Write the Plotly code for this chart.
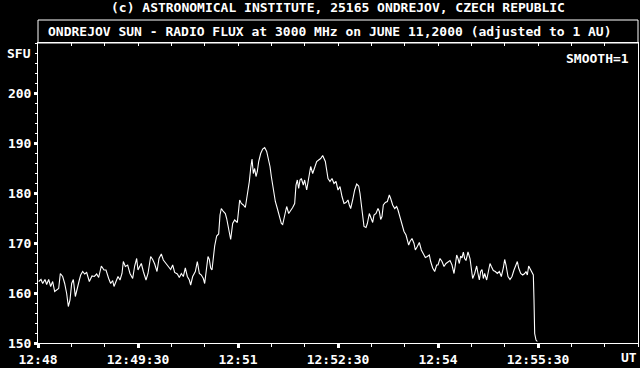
import plotly.graph_objects as go

# seconds after 12:48:00 UT
t_sec = [0.6, 2.7, 4.2, 6.3, 7.8, 9.6, 11.4, 13.2, 15.0, 16.8, 18.6, 20.1, 22.2, 24.0, 25.8,
         27.3, 28.8, 30.3, 31.8, 33.6, 35.4, 37.2, 38.4, 40.2, 42.0, 43.8, 46.2, 48.6, 50.7,
         52.8, 54.6, 57.0, 59.4, 61.2, 63.6, 65.4, 67.2, 68.4, 70.2, 72.0, 73.8, 75.6, 76.8,
         78.6, 80.7, 82.8, 85.2, 87.0, 88.8,
         90.0, 91.5, 93.0, 94.8, 97.2, 99.0, 101.4, 103.2, 105.0, 107.1, 108.9, 111.0, 112.8,
         115.2, 117.6, 119.4, 121.2, 123.0, 125.4, 127.2, 129.0, 130.8, 132.6, 134.4, 136.2,
         137.4, 139.2, 141.6, 143.4, 145.2, 147.0, 148.8, 150.0, 151.8, 153.0, 154.2, 155.4,
         156.6, 157.8, 159.0, 160.8, 162.6, 163.8, 165.0, 166.8, 168.6, 169.8, 171.6, 173.4,
         175.2, 177.0, 179.4,
         181.5, 183.0, 184.8, 186.6, 188.4, 190.2, 191.4, 192.6, 193.8, 195.0, 196.2, 197.4,
         198.6, 200.4, 202.2, 204.0, 205.8, 207.6, 208.8, 210.0, 211.8, 213.6, 215.4, 217.2,
         219.0, 220.2, 222.0, 223.8, 225.6, 227.4, 229.2, 231.0, 232.2, 233.4, 234.6, 235.8,
         237.0, 238.8, 240.0, 241.8, 243.6, 245.4, 247.2, 249.0, 250.8, 252.6, 254.4, 256.2,
         257.4, 258.6, 259.8, 261.0, 262.8, 264.6, 266.4, 268.2,
         270.0, 271.8, 273.6, 275.4, 277.2, 279.0, 280.2, 281.4, 283.2, 285.0, 286.8, 288.6,
         289.8, 291.0, 292.2, 293.4, 295.2, 296.4, 298.2, 300.0, 301.2, 302.4, 304.2, 306.0,
         307.2, 308.4, 309.6, 310.8, 312.6, 314.4, 316.2, 317.4, 319.2, 321.0, 322.8, 324.0,
         325.8, 327.6, 329.4, 331.2, 332.4, 333.6, 334.8, 336.6, 338.4, 339.6, 341.4, 343.2,
         345.0, 346.8, 348.6, 350.4, 352.2, 353.4, 355.2, 357.0, 358.8,
         360.0, 361.8, 363.6, 365.4, 367.2, 369.0, 370.8, 372.6, 374.4, 375.6, 376.8, 378.0,
         379.2, 380.4, 381.6, 382.8, 384.0, 385.2, 387.0, 388.8, 390.0, 391.2, 393.0, 394.8,
         396.0, 397.2, 398.4, 399.6, 400.8, 402.0, 403.8, 405.6, 406.8, 408.0, 409.8, 411.6,
         413.4, 415.2, 417.0, 418.8, 420.0, 421.2, 423.0, 424.8, 426.6, 428.4, 430.2, 431.4,
         432.6, 434.4, 436.2, 438.0, 439.2, 440.4, 441.6, 443.4, 444.6, 445.8, 446.4, 447.0,
         448.2, 449.4]

sfu = [162.3, 162.7, 161.9, 162.7, 161.7, 162.7, 161.3, 162.3, 160.3, 160.7, 160.9, 163.9, 163.3,
       161.9, 159.9, 157.3, 158.6, 161.9, 162.7, 159.3, 161.3, 162.6, 163.6, 164.3, 163.8, 164.1,
       162.3, 163.4, 163.3, 163.8, 163.1, 165.4, 164.6, 164.6, 162.9, 161.9, 162.5, 161.3, 162.3,
       163.3, 162.6, 163.9, 166.3, 165.3, 165.6, 163.9, 162.9, 165.4, 166.9,
       164.6, 165.3, 165.9, 164.3, 162.6, 163.9, 167.3, 166.7, 165.8, 164.3, 166.9, 167.8, 166.6,
       165.9, 165.3, 164.7, 165.6, 164.1, 163.8, 163.1, 163.9, 163.3, 165.0, 163.3, 162.6,
       161.6, 163.3, 164.3, 166.3, 163.9, 163.6, 162.9, 161.9, 165.3, 167.3, 166.7, 165.0,
       164.6, 167.3, 169.4, 171.4, 171.8, 175.6, 176.9, 176.3, 175.9, 174.9, 172.6, 170.7,
       173.9, 174.6, 174.1,
       178.6, 177.9, 177.6, 177.1, 179.6, 182.3, 184.9, 186.8, 183.9, 184.9, 183.3, 184.3,
       186.3, 187.9, 188.8, 189.1, 188.3, 186.6, 185.3, 183.3, 180.9, 178.3, 176.9, 175.6,
       173.9, 173.7, 175.6, 177.3, 175.9, 176.4, 177.1, 177.9, 181.6, 182.6, 180.9, 182.6,
       182.9, 181.6, 182.6, 180.6, 182.9, 185.3, 183.9, 184.9, 186.3, 186.6, 186.9, 187.5,
       186.9, 186.3, 184.6, 182.9, 182.3, 182.9, 181.9, 182.3,
       180.6, 181.3, 179.3, 177.9, 178.1, 178.6, 177.6, 176.9, 178.6, 180.6, 181.8, 181.4,
       179.9, 177.3, 174.6, 173.3, 173.1, 173.9, 175.9, 174.9, 174.1, 175.6, 175.9, 176.9,
       176.3, 174.7, 175.3, 177.6, 178.1, 178.3, 179.6, 178.9, 177.6, 176.9, 177.3, 176.6,
       175.3, 173.6, 172.3, 171.6, 170.6, 169.6, 170.3, 170.9, 169.9, 168.6, 169.3, 170.1,
       168.6, 167.9, 167.1, 167.3, 167.6, 166.3, 165.0, 164.3, 165.6,
       165.6, 166.9, 166.3, 165.3, 165.9, 166.3, 166.5, 165.6, 163.9, 165.6, 167.6, 166.9,
       165.9, 167.4, 167.0, 168.2, 166.9, 166.5, 168.2, 166.9, 165.0, 162.9, 163.9, 165.4,
       163.9, 162.6, 164.3, 164.7, 162.9, 163.9, 162.6, 164.6, 165.9, 165.3, 164.5, 164.3,
       163.9, 164.3, 163.3, 165.0, 166.7, 165.6, 163.3, 162.7, 163.3, 164.6, 165.9, 166.3,
       165.0, 163.9, 163.6, 163.9, 164.3, 163.6, 165.4, 164.6, 164.3, 163.6, 158.6, 151.9,
       150.6, 150.3]

x_tick_vals = [0, 90, 180, 270, 360, 450, 540]
x_tick_text = ["12:48", "12:49:30", "12:51", "12:52:30", "12:54", "12:55:30", ""]
x_minor_step = 30
y_tick_vals = [150, 160, 170, 180, 190, 200]
y_tick_text = ["150", "160", "170", "180", "190", "200"]
y_minor_step = 2
x_range = [0, 540]
y_range = [150, 210]

title_text = "(c) ASTRONOMICAL INSTITUTE, 25165 ONDREJOV, CZECH REPUBLIC"
box_text = "ONDREJOV SUN - RADIO FLUX at 3000 MHz on JUNE 11,2000 (adjusted to 1 AU)"

FONT = "DejaVu Sans Mono"
fnt = dict(family=FONT, size=13, color="white", weight="bold")

fig = go.Figure()
fig.add_trace(go.Scatter(x=t_sec, y=sfu, mode="lines",
                         line=dict(color="white", width=1.1),
                         hoverinfo="skip", showlegend=False))
# helper (invisible) trace so the top tick axis is rendered
fig.add_trace(go.Scatter(x=[x_range[0]], y=[y_range[0]], xaxis="x2", mode="markers",
                         marker=dict(opacity=0), hoverinfo="skip", showlegend=False))

x_minor = list(range(x_range[0], x_range[1] + 1, x_minor_step))
y_minor = list(range(y_range[0], y_range[1] + 1, y_minor_step))

fig.update_layout(
    width=640, height=368,
    margin=dict(l=38, r=2, t=43, b=25),
    paper_bgcolor="black", plot_bgcolor="black",
    font=fnt,
    showlegend=False,
    xaxis=dict(range=x_range, showgrid=False, zeroline=False,
               showline=True, linecolor="white", linewidth=1, mirror=True,
               tickmode="array", tickvals=x_tick_vals, ticktext=x_tick_text,
               ticks="outside", ticklen=4, tickwidth=3, tickcolor="white",
               tickfont=fnt,
               minor=dict(tickmode="array", tickvals=x_minor, ticks="outside",
                          ticklen=3, tickwidth=1, tickcolor="white")),
    xaxis2=dict(range=x_range, overlaying="x", side="top", anchor="y",
                showgrid=False, zeroline=False, showline=False,
                tickmode="array", tickvals=x_minor, ticks="inside",
                ticklen=3, tickwidth=1, tickcolor="white", showticklabels=False),
    yaxis=dict(range=y_range, showgrid=False, zeroline=False,
               showline=True, linecolor="white", linewidth=1, mirror=True,
               tickmode="array", tickvals=y_tick_vals, ticktext=y_tick_text,
               ticks="outside", ticklen=3, tickwidth=3, tickcolor="white",
               tickfont=fnt,
               minor=dict(tickmode="array", tickvals=y_minor, ticks="outside",
                          ticklen=2, tickwidth=1, tickcolor="white")),
)

# title box above plot
fig.add_shape(type="rect", xref="paper", yref="paper", x0=0, x1=1, y0=1, y1=1 + 23 / 300,
              line=dict(color="white", width=1), fillcolor="rgba(0,0,0,0)")

fig.add_annotation(text=title_text, xref="paper", yref="paper", x=0.5, y=(343 - 8) / 300,
                   xanchor="center", yanchor="middle", showarrow=False, font=fnt)
fig.add_annotation(text=box_text, xref="paper", yref="paper", x=(46 - 38) / 600,
                   y=(343 - 31.5) / 300, xanchor="left", yanchor="middle",
                   showarrow=False, font=fnt)
fig.add_annotation(text="SMOOTH=1", xref="paper", yref="paper", x=(631 - 38) / 600,
                   y=(343 - 58) / 300, xanchor="right", yanchor="middle",
                   showarrow=False, font=fnt)
fig.add_annotation(text="SFU", xref="paper", yref="y", x=(33 - 38) / 600, y=208,
                   xanchor="right", yanchor="middle", showarrow=False, font=fnt)
fig.add_annotation(text="UT", xref="paper", yref="paper", x=(639 - 38) / 600,
                   y=(343 - 357) / 300, xanchor="right", yanchor="middle",
                   showarrow=False, font=fnt)

fig.write_html("out.html")
